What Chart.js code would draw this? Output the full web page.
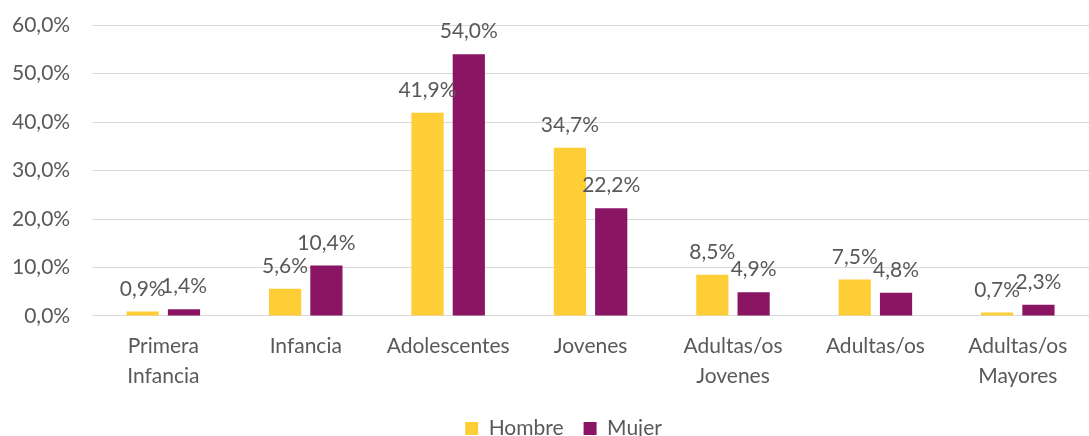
<!DOCTYPE html>
<html>
<head>
<meta charset="utf-8">
<script src="https://cdn.jsdelivr.net/npm/chart.js@4/dist/chart.umd.min.js"></script>
<style>
  html, body { margin: 0; padding: 0; background: #fff; }
  #wrap { width: 1089px; height: 436px; }
</style>
</head>
<body>
<div id="wrap"><canvas id="chart"></canvas></div>
<script>
const categories = [
    ['Primera', 'Infancia'],
    'Infancia',
    'Adolescentes',
    'Jovenes',
    ['Adultas/os', 'Jovenes'],
    'Adultas/os',
    ['Adultas/os', 'Mayores']
];
const hombre = [0.9, 5.6, 41.9, 34.7, 8.5, 7.5, 0.7];
const mujer = [1.4, 10.4, 54.0, 22.2, 4.9, 4.8, 2.3];
const yTicks = [0, 10, 20, 30, 40, 50, 60];

const textColor = '#595959';
const fontFamily = 'Lato, "Open Sans", sans-serif';

function pct(v) {
    return v.toFixed(1).replace('.', ',') + '%';
}

// labels above each bar, like the Excel original
const barLabels = {
    id: 'barLabels',
    afterDatasetsDraw(chart) {
        const ctx = chart.ctx;
        ctx.save();
        ctx.font = '21px ' + fontFamily;
        ctx.fillStyle = textColor;
        ctx.textAlign = 'center';
        ctx.textBaseline = 'alphabetic';
        chart.data.datasets.forEach((ds, i) => {
            chart.getDatasetMeta(i).data.forEach((bar, j) => {
                ctx.fillText(pct(ds.data[j]), bar.x, bar.y - 16);
            });
        });
        ctx.restore();
    }
};

// nudge the legend a bit right, as in the original
const legendShift = {
    id: 'legendShift',
    afterLayout(chart) {
        chart.legend.left += 24;
        chart.legend.right += 24;
    }
};

new Chart(document.getElementById('chart'), {
    type: 'bar',
    data: {
        labels: categories,
        datasets: [
            {
                label: 'Hombre',
                data: hombre,
                backgroundColor: '#FFCD35',
                barPercentage: 0.78,
                categoryPercentage: 0.58
            },
            {
                label: 'Mujer',
                data: mujer,
                backgroundColor: '#8A1562',
                barPercentage: 0.78,
                categoryPercentage: 0.58
            }
        ]
    },
    options: {
        responsive: true,
        maintainAspectRatio: false,
        animation: false,
        layout: { padding: { top: 0, right: 0, left: -10, bottom: -13 } },
        plugins: {
            legend: {
                position: 'bottom',
                labels: {
                    color: textColor,
                    font: { size: 21, family: fontFamily },
                    boxWidth: 13,
                    boxHeight: 13,
                    padding: 20
                }
            },
            tooltip: { enabled: false }
        },
        scales: {
            x: {
                grid: { display: false },
                border: { display: true, color: '#d9d9d9', width: 1 },
                ticks: {
                    color: textColor,
                    font: { size: 21, family: fontFamily, lineHeight: 1.43 },
                    maxRotation: 0,
                    padding: 7
                }
            },
            y: {
                min: 0,
                max: 60,
                afterBuildTicks(axis) {
                    axis.ticks = yTicks.map(v => ({ value: v }));
                },
                grid: { color: '#d9d9d9', drawTicks: false },
                border: { display: false },
                ticks: {
                    color: textColor,
                    font: { size: 21, family: fontFamily, lineHeight: 0.3 },
                    padding: 22,
                    callback: v => pct(v)
                }
            }
        }
    },
    plugins: [barLabels, legendShift]
});
</script>
</body>
</html>
